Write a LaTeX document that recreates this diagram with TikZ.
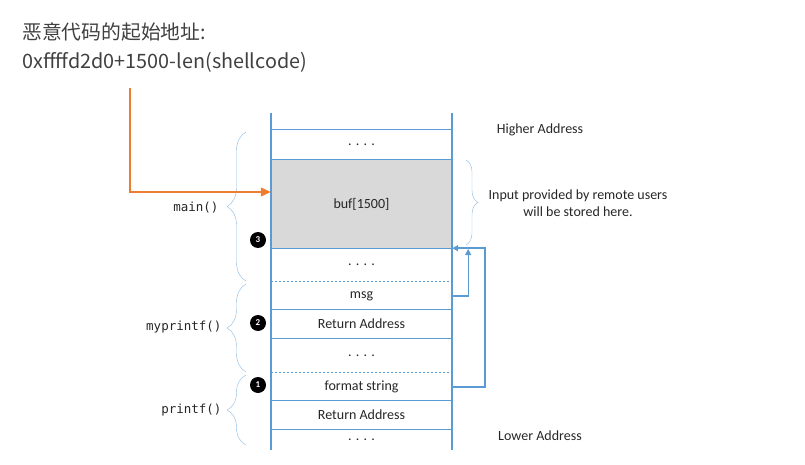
\documentclass[tikz,border=0pt]{standalone}
\usepackage{fontspec}
\setmainfont{Carlito}
\setmonofont{DejaVu Sans Mono}
\newfontfamily\cjkfont{Noto Sans CJK SC}
\usetikzlibrary{arrows.meta,decorations.pathreplacing}
\definecolor{stackblue}{HTML}{5B9BD5}
\definecolor{arroworange}{HTML}{ED7D31}
\definecolor{bufgray}{HTML}{D9D9D9}
\definecolor{textgray}{HTML}{404040}

\tikzset{
  cell/.style={minimum width=181pt, inner sep=0pt, text=black!85, font=\fontsize{14}{16}\selectfont},
  func/.style={text=black!85, font=\ttfamily\fontsize{12.5}{14}\selectfont},
  note/.style={text=black!85, align=center, font=\fontsize{14}{17}\selectfont},
  step num/.style={circle, fill=black, text=white, inner sep=0pt, minimum size=16pt, font=\bfseries\fontsize{9}{9}\selectfont},
  framebrace/.style={stackblue!70, thin, decorate, decoration={brace, amplitude=19pt}},
  notebrace/.style={stackblue!70, thin, decorate, decoration={brace, amplitude=12pt}},
  sep/.style={stackblue, line width=1.1pt},
  sep dashed/.style={stackblue, line width=1.1pt, dash pattern=on 2pt off 2pt}
}

\begin{document}
\begin{tikzpicture}[x=1pt, y=-1pt]
\useasboundingbox (0,0) rectangle (805,465);

% title
\node[anchor=base west, inner sep=0pt, text=textgray, font=\cjkfont\fontsize{19.8}{22}\selectfont] (title) at (22,40) {恶意代码的起始地址:};
\node[anchor=base west, inner sep=0pt, text=textgray, font=\cjkfont\fontsize{19.8}{22}\selectfont] (addr) at (22,69) {0xffffd2d0+1500-len(shellcode)};

% stack cells
\node[cell, minimum height=30pt] (top) at (361.5,145) {. . . .};
\node[cell, minimum height=88pt, fill=bufgray] (buf) at (361.5,204) {\raisebox{-6pt}{buf[1500]}};
\node[cell, minimum height=34pt] (dotsa) at (361.5,265) {. . . .};
\node[cell, minimum height=28pt] (msg) at (361.5,296) {msg};
\node[cell, minimum height=28pt] (retb) at (361.5,324) {Return Address};
\node[cell, minimum height=35pt] (dotsb) at (361.5,355.5) {. . . .};
\node[cell, minimum height=28pt] (fmt) at (361.5,387) {format string};
\node[cell, minimum height=28pt] (reta) at (361.5,415) {Return Address};
\node[cell, minimum height=21pt] (dotsc) at (361.5,439.5) {. . . .};

% stack lines
\draw[sep] (271,113) -- (271,450);
\draw[sep] (452,113) -- (452,450);
\draw[sep] (top.north west) -- (top.north east);
\draw[sep] (buf.north west) -- (buf.north east);
\draw[sep] (buf.south west) -- (buf.south east);
\draw[sep dashed] (msg.north west) -- (msg.north east);
\draw[sep] (retb.north west) -- (retb.north east);
\draw[sep] (retb.south west) -- (retb.south east);
\draw[sep dashed] (fmt.north west) -- (fmt.north east);
\draw[sep] (reta.north west) -- (reta.north east);
\draw[sep] (reta.south west) -- (reta.south east);

% frames
\draw[framebrace] (246,281) -- (246,132);
\draw[framebrace] (246,372) -- (246,284);
\draw[framebrace] (246,445) -- (246,375);
\node[func, anchor=east] (main) at (222,208) {main()};
\node[func, anchor=east] (myprintf) at (225,327) {myprintf()};
\node[func, anchor=east] (printf) at (225,410) {printf()};

% input note
\draw[notebrace] (466,160) -- (466,245);
\node[note] (input) at (578,203) {Input provided by remote users\\will be stored here.};
\node[note] (high) at (540,130) {Higher Address};
\node[note] (low) at (540,436) {Lower Address};

% steps
\node[step num] (s3) at (258,240) {3};
\node[step num] (s2) at (258,323) {2};
\node[step num] (s1) at (258,385) {1};

% arrows
\coordinate (start) at (130,88);
\draw[arroworange, line width=1.1pt, -{Triangle[length=10pt, width=9pt]}] (start) |- (buf.west |- 0,192);
\draw[stackblue, line width=2pt, -{Triangle[length=6pt, width=6pt]}] (fmt.east) -- ++(33,0) |- (buf.south east);
\draw[stackblue, line width=1.3pt, -{Triangle[length=6pt, width=6pt]}] (msg.east) -- ++(16,0) -- ++(0,-47);
\end{tikzpicture}
\end{document}
